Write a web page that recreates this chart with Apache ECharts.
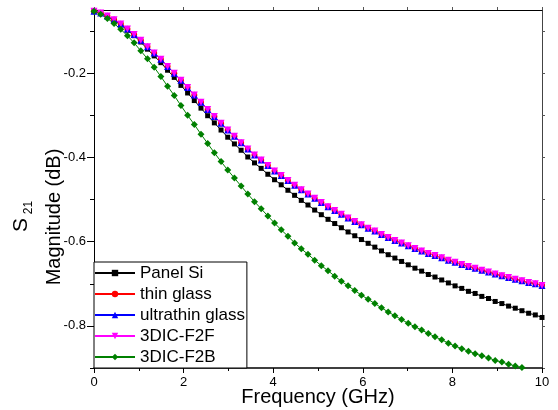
<!DOCTYPE html>
<html>
<head>
<meta charset="utf-8">
<script src="https://cdn.jsdelivr.net/npm/echarts@6/dist/echarts.min.js"></script>
<style>
  html, body { margin: 0; padding: 0; background: #fff; }
  #chart { width: 558px; height: 410px; }
</style>
</head>
<body>
<div id="chart"></div>
<script>
// Frequency sweep points (GHz)
const frequency = [
  0, 0.1493, 0.2985, 0.4478, 0.5970, 0.7463, 0.8955, 1.0448, 1.1940, 1.3433,
  1.4925, 1.6418, 1.7910, 1.9403, 2.0896, 2.2388, 2.3881, 2.5373, 2.6866, 2.8358,
  2.9851, 3.1343, 3.2836, 3.4328, 3.5821, 3.7313, 3.8806, 4.0299, 4.1791, 4.3284,
  4.4776, 4.6269, 4.7761, 4.9254, 5.0746, 5.2239, 5.3731, 5.5224, 5.6716, 5.8209,
  5.9701, 6.1194, 6.2687, 6.4179, 6.5672, 6.7164, 6.8657, 7.0149, 7.1642, 7.3134,
  7.4627, 7.6119, 7.7612, 7.9104, 8.0597, 8.2090, 8.3582, 8.5075, 8.6567, 8.8060,
  8.9552, 9.1045, 9.2537, 9.4030, 9.5522, 9.7015, 9.8507, 10
];

// |S21| in dB for each interposer / stacking option
const panelSi = [
  -0.053, -0.057, -0.065, -0.074, -0.085, -0.098, -0.111, -0.126, -0.143, -0.159,
  -0.175, -0.193, -0.210, -0.229, -0.247, -0.265, -0.283, -0.301, -0.318, -0.335,
  -0.352, -0.368, -0.383, -0.399, -0.413, -0.426, -0.440, -0.453, -0.465, -0.478,
  -0.490, -0.502, -0.513, -0.525, -0.536, -0.547, -0.557, -0.567, -0.577, -0.586,
  -0.595, -0.604, -0.613, -0.622, -0.631, -0.639, -0.647, -0.655, -0.663, -0.670,
  -0.678, -0.684, -0.691, -0.698, -0.705, -0.711, -0.718, -0.723, -0.730, -0.735,
  -0.742, -0.747, -0.753, -0.758, -0.764, -0.770, -0.774, -0.780
];

const thinGlass = [
  -0.053, -0.057, -0.064, -0.073, -0.083, -0.095, -0.108, -0.122, -0.137, -0.152,
  -0.167, -0.184, -0.200, -0.217, -0.234, -0.252, -0.269, -0.286, -0.303, -0.319,
  -0.335, -0.350, -0.365, -0.380, -0.394, -0.406, -0.419, -0.432, -0.443, -0.455,
  -0.466, -0.477, -0.487, -0.497, -0.507, -0.517, -0.526, -0.535, -0.544, -0.552,
  -0.560, -0.568, -0.575, -0.583, -0.590, -0.597, -0.603, -0.610, -0.616, -0.622,
  -0.628, -0.633, -0.638, -0.644, -0.649, -0.654, -0.659, -0.663, -0.668, -0.672,
  -0.677, -0.681, -0.685, -0.689, -0.693, -0.697, -0.700, -0.704
];

const ultrathinGlass = [
  -0.053, -0.057, -0.064, -0.073, -0.083, -0.095, -0.108, -0.122, -0.137, -0.152,
  -0.167, -0.184, -0.200, -0.217, -0.234, -0.252, -0.269, -0.286, -0.303, -0.319,
  -0.335, -0.350, -0.365, -0.380, -0.394, -0.406, -0.419, -0.432, -0.443, -0.455,
  -0.466, -0.477, -0.487, -0.497, -0.507, -0.517, -0.526, -0.535, -0.544, -0.552,
  -0.560, -0.568, -0.575, -0.583, -0.590, -0.597, -0.603, -0.610, -0.616, -0.622,
  -0.628, -0.633, -0.638, -0.644, -0.649, -0.654, -0.659, -0.663, -0.668, -0.672,
  -0.677, -0.681, -0.685, -0.689, -0.693, -0.697, -0.700, -0.704
];

const dicF2F = [
  -0.053, -0.057, -0.064, -0.073, -0.083, -0.095, -0.108, -0.122, -0.137, -0.152,
  -0.167, -0.184, -0.200, -0.217, -0.234, -0.252, -0.269, -0.286, -0.303, -0.319,
  -0.335, -0.350, -0.365, -0.380, -0.394, -0.406, -0.419, -0.432, -0.443, -0.455,
  -0.466, -0.477, -0.487, -0.497, -0.507, -0.517, -0.526, -0.535, -0.544, -0.552,
  -0.560, -0.568, -0.575, -0.583, -0.590, -0.597, -0.603, -0.610, -0.616, -0.622,
  -0.628, -0.633, -0.638, -0.644, -0.649, -0.654, -0.659, -0.663, -0.668, -0.672,
  -0.677, -0.681, -0.685, -0.689, -0.693, -0.697, -0.700, -0.704
];

const dicF2B = [
  -0.053, -0.060, -0.070, -0.082, -0.096, -0.111, -0.128, -0.147, -0.166, -0.186,
  -0.208, -0.231, -0.253, -0.277, -0.300, -0.322, -0.345, -0.367, -0.389, -0.410,
  -0.430, -0.449, -0.468, -0.487, -0.505, -0.522, -0.539, -0.556, -0.572, -0.587,
  -0.603, -0.617, -0.630, -0.644, -0.657, -0.669, -0.682, -0.694, -0.705, -0.716,
  -0.727, -0.737, -0.747, -0.757, -0.767, -0.776, -0.785, -0.794, -0.802, -0.810,
  -0.818, -0.826, -0.833, -0.841, -0.848, -0.854, -0.860, -0.866, -0.871, -0.876,
  -0.882, -0.886, -0.891, -0.895, -0.899, -0.904, -0.908, -0.912
];

const seriesNames = ['Panel Si', 'thin glass', 'ultrathin glass', '3DIC-F2F', '3DIC-F2B'];
const yLabelTicks = [-0.8, -0.6, -0.4, -0.2];
const yMinorTicks = [-0.9, -0.7, -0.5, -0.3, -0.1];
const yAllTicks = [-0.9, -0.8, -0.7, -0.6, -0.5, -0.4, -0.3, -0.2, -0.1];

const FONT = '"Liberation Sans", Arial, Helvetica, sans-serif';

function pairs(values) {
  return frequency.map((f, i) => [f, values[i]]);
}

function lineSeries(name, values, color, symbol, size, rotate) {
  return {
    name: name,
    type: 'line',
    data: pairs(values),
    symbol: symbol,
    symbolSize: size,
    symbolRotate: rotate || 0,
    showAllSymbol: true,
    clip: true,
    lineStyle: { color: color, width: 1 },
    itemStyle: { color: color, borderWidth: 0 },
    emphasis: { disabled: true }
  };
}

const chart = echarts.init(document.getElementById('chart'), null, { renderer: 'canvas' });

chart.setOption({
  animation: false,
  backgroundColor: '#fff',
  grid: { left: 94, right: 16, top: 10, bottom: 42, containLabel: false, outerBoundsMode: 'none' },
  xAxis: [
    {
      type: 'value', position: 'bottom', min: 0, max: 10, interval: 2,
      axisLine: { show: true, lineStyle: { color: '#000', width: 1.5 } },
      axisTick: { show: true, inside: false, length: 5, lineStyle: { color: '#000', width: 1 } },
      minorTick: { show: true, splitNumber: 2, length: 3, lineStyle: { color: '#000', width: 1 } },
      axisLabel: { show: true, margin: 8, fontSize: 13, fontFamily: FONT, color: '#000' },
      splitLine: { show: false }
    },
    {
      type: 'value', position: 'top', min: 0, max: 10, interval: 1,
      axisLine: { show: true, lineStyle: { color: '#000', width: 1 } },
      axisTick: { show: true, inside: false, length: 3, lineStyle: { color: '#555', width: 1 } },
      axisLabel: { show: false },
      splitLine: { show: false }
    }
  ],
  yAxis: [
    {
      type: 'value', position: 'left', min: -0.9, max: -0.05, interval: 0.1,
      axisLine: { show: true, lineStyle: { color: '#000', width: 1 } },
      axisTick: { show: true, inside: false, length: 7, customValues: yLabelTicks, lineStyle: { color: '#000', width: 1 } },
      axisLabel: { show: true, margin: 8, customValues: yLabelTicks, fontSize: 13, fontFamily: FONT, color: '#000',
                   formatter: v => v.toFixed(1) },
      splitLine: { show: false }
    },
    {
      type: 'value', position: 'left', offset: 0, min: -0.9, max: -0.05, interval: 0.1,
      axisLine: { show: false },
      axisTick: { show: true, inside: false, length: 4, customValues: yMinorTicks, lineStyle: { color: '#000', width: 1 } },
      axisLabel: { show: false },
      splitLine: { show: false }
    },
    {
      type: 'value', position: 'right', min: -0.9, max: -0.05, interval: 0.1,
      axisLine: { show: true, lineStyle: { color: '#444', width: 1 } },
      axisTick: { show: true, inside: false, length: 3, customValues: yAllTicks, lineStyle: { color: '#555', width: 1 } },
      axisLabel: { show: false },
      splitLine: { show: false }
    }
  ],
  legend: {
    orient: 'vertical',
    left: 94,
    top: 262,
    itemWidth: 40,
    itemHeight: 8,
    itemGap: 1,
    padding: [1, 2, 1, 0],
    borderColor: '#000',
    borderWidth: 1,
    backgroundColor: '#fff',
    selectedMode: false,
    textStyle: { fontSize: 17, fontFamily: FONT, color: '#000', lineHeight: 20 },
    data: seriesNames
  },
  graphic: [
    {
      type: 'text', x: 318, y: 397,
      style: { text: 'Frequency (GHz)', font: '20px ' + FONT, fill: '#000', align: 'center', verticalAlign: 'middle' }
    },
    {
      type: 'text', x: 54, y: 217, rotation: Math.PI / 2,
      style: { text: 'Magnitude (dB)', font: '20px ' + FONT, fill: '#000', align: 'center', verticalAlign: 'middle' }
    },
    {
      type: 'text', x: 21, y: 225, rotation: Math.PI / 2,
      style: { text: 'S', font: '21px ' + FONT, fill: '#000', align: 'center', verticalAlign: 'middle' }
    },
    {
      type: 'text', x: 29, y: 207.5, rotation: Math.PI / 2,
      style: { text: '21', font: '12px ' + FONT, fill: '#000', align: 'center', verticalAlign: 'middle' }
    }
  ],
  series: [
    lineSeries(seriesNames[0], panelSi, '#000000', 'rect', 5),
    lineSeries(seriesNames[1], thinGlass, '#ff0000', 'circle', 6),
    lineSeries(seriesNames[2], ultrathinGlass, '#0000ff', 'triangle', 7),
    lineSeries(seriesNames[3], dicF2F, '#ff00ff', 'triangle', 7, 180),
    lineSeries(seriesNames[4], dicF2B, '#008000', 'diamond', 7)
  ]
});
</script>
</body>
</html>
